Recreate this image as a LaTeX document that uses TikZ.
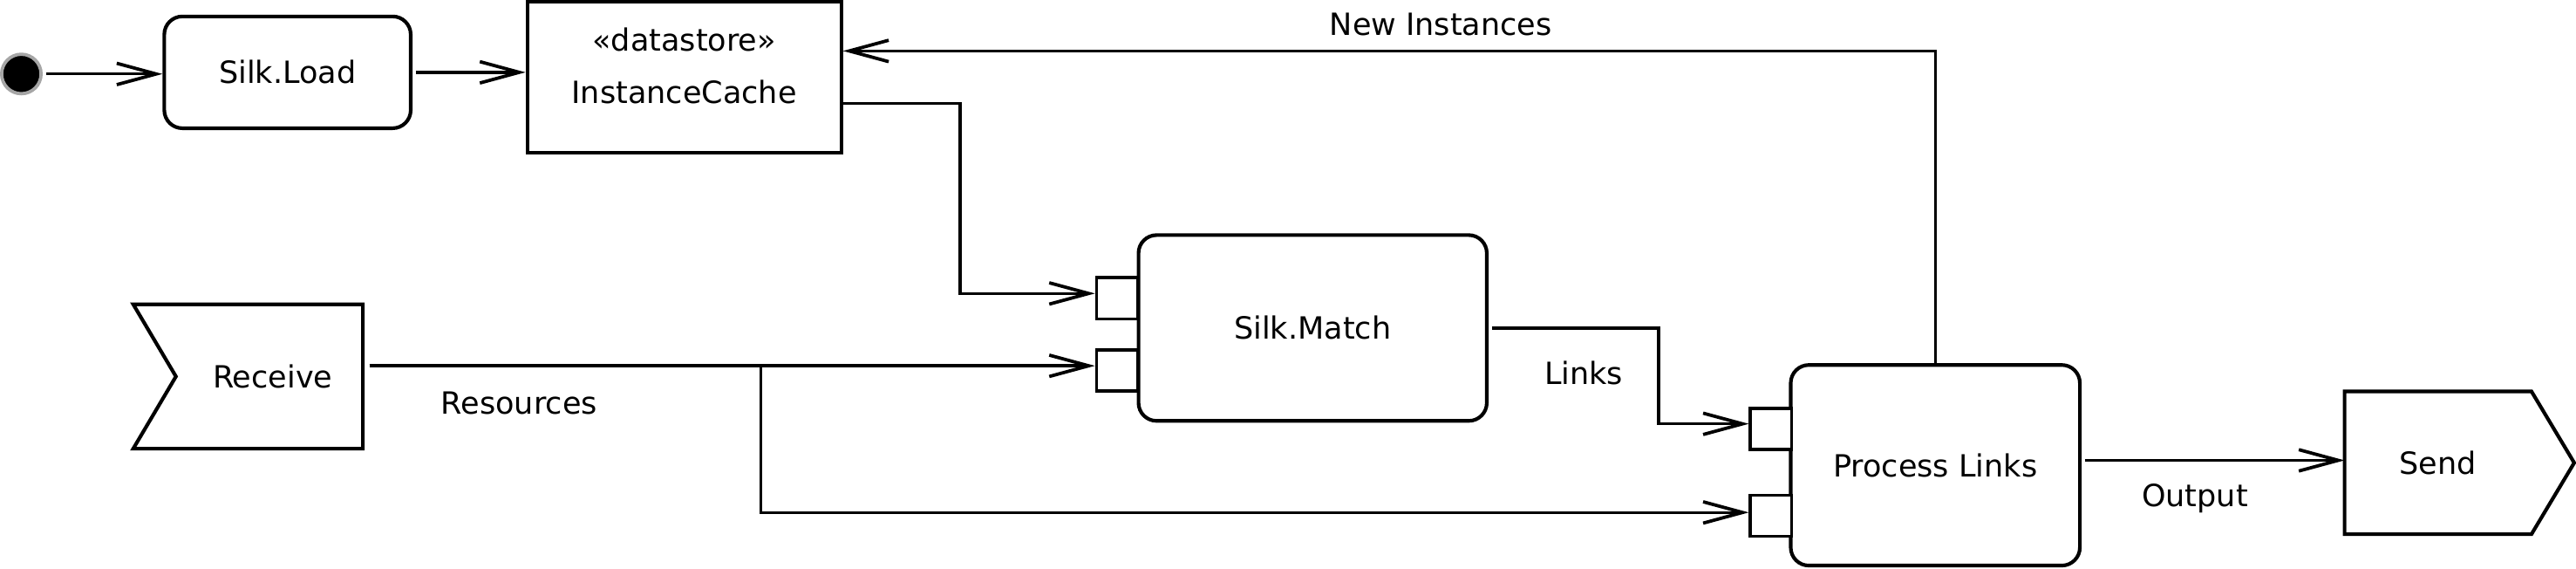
\documentclass[tikz,border=0pt]{standalone}
\usepackage{fontspec}
\setmainfont{DejaVu Sans}
\usetikzlibrary{arrows.meta,calc}
\begin{document}
\begin{tikzpicture}[x=0.5pt,y=-0.5pt,
  font=\fontsize{9.3}{16}\selectfont,
  line width=0.9pt,
  flow/.style={-{Straight Barb[length=12pt,width=6.5pt,line width=1pt]}, line width=0.9pt},
  action/.style={draw, rounded corners=5.5pt, line width=1.1pt, inner sep=0pt},
  pinbox/.style={draw, fill=white, line width=1pt, minimum width=12.5pt, minimum height=12.5pt, inner sep=0pt},
  lbl/.style={inner sep=0pt}]
\useasboundingbox (0,0) rectangle (1568,346);

% nodes
\node[circle, fill=black, draw=black!35, line width=1pt, minimum size=12pt, inner sep=0pt] (init) at (13,45) {};
\node[action, minimum width=75pt, minimum height=34pt] (load) at (175,44) {Silk.Load};
\node[draw, line width=1.1pt, minimum width=95.5pt, minimum height=46pt] (cache) at (416.5,47) {};
\node[lbl, align=center] (cachetxt) at (416.5,40) {«datastore»\\InstanceCache};
\node[action, minimum width=106pt, minimum height=56.5pt] (match) at (799,199.5) {Silk.Match};
\node[pinbox] (m1) at (680,181.5) {};
\node[pinbox] (m2) at (680,225.5) {};
\node[lbl, minimum width=54pt, minimum height=43pt] (recv) at (166,229) {Receive};
\draw[line width=1.1pt] ($(recv.north west)+(-30,0)$) -- (recv.north east) -- (recv.south east)
  -- ($(recv.south west)+(-30,0)$) -- ($(recv.west)+(-4,0)$) -- cycle;
\node[action, minimum width=88pt, minimum height=61pt] (proc) at (1178,283) {Process Links};
\node[pinbox] (pA) at (1078,260.8) {};
\node[pinbox] (pB) at (1078,313.7) {};
\node[lbl, minimum width=56pt, minimum height=42.5pt] (send) at (1484,281.5) {Send};
\draw[line width=1.1pt] (send.north west) -- (send.north east) -- ($(send.east)+(26,0)$)
  -- (send.south east) -- (send.south west) -- cycle;

% labels
\node[lbl] (lnew) at (877,15) {New Instances};
\node[lbl] (lres) at (316,245) {Resources};
\node[lbl] (llinks) at (964,227) {Links};
\node[lbl] (lout) at (1336,303) {Output};

% coordinates
\coordinate (m1in) at ([yshift=1.5pt]m1.west);
\coordinate (m2in) at ([yshift=1.5pt]m2.west);
\coordinate (pAin) at ([yshift=1.5pt]pA.west);
\coordinate (pBin) at ([yshift=1pt]pB.west);
\coordinate (split) at (463,0 |- m2in);
\coordinate (cacheout) at ([yshift=-8pt]cache.east);
\coordinate (cachein) at ([yshift=8pt]cache.east);
\coordinate (pout) at ([yshift=1.5pt]proc.east);

% connectors
\draw[flow] ([xshift=1pt]init.east) -- (init.east -| load.west);
\draw[flow] ([xshift=1pt]load.east) -- (load.east -| cache.west);
\draw[flow] (cacheout) -| ($(m1in)+(-82,0)$) -- (m1in);
\draw[flow] ([xshift=2pt]recv.east |- m2in) -- (m2in);
\draw[flow] ([xshift=2pt]recv.east |- m2in) -- (split) |- (pBin);
\draw[flow] ([xshift=1pt]match.east) -| ($(pAin)+(-55,0)$) -- (pAin);
\draw[flow] (proc.north) |- (cachein);
\draw[flow] ([xshift=1pt]pout) -- (pout -| send.west);
\end{tikzpicture}
\end{document}
